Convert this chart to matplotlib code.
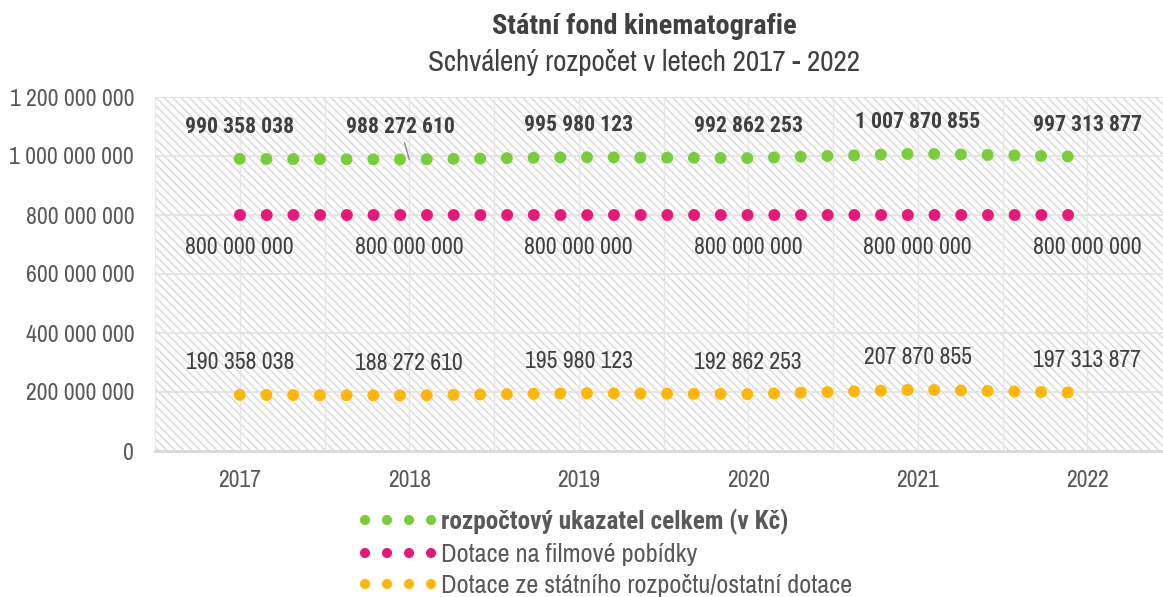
import matplotlib
matplotlib.use("Agg")
import matplotlib.pyplot as plt
from matplotlib.lines import Line2D
from matplotlib.patches import Rectangle

# =========================
# Data
# =========================
years = ["2017", "2018", "2019", "2020", "2021", "2022"]
total = [990358038, 988272610, 995980123, 992862253, 1007870855, 997313877]
film = [800000000, 800000000, 800000000, 800000000, 800000000, 800000000]
state = [190358038, 188272610, 195980123, 192862253, 207870855, 197313877]

names = [
    "rozpočtový ukazatel celkem (v Kč)",
    "Dotace na filmové pobídky",
    "Dotace ze státního rozpočtu/ostatní dotace",
]
yticks = [0, 200000000, 400000000, 600000000, 800000000, 1000000000, 1200000000]

# =========================
# Style
# =========================
plt.rcParams["font.family"] = ["Archivo Narrow", "Roboto Condensed", "DejaVu Sans"]
plt.rcParams["hatch.linewidth"] = 1.1
BOLD = ["Roboto Condensed", "Archivo Narrow", "DejaVu Sans"]

GREEN = "#7ACC3A"
PINK = "#E8187A"
ORANGE = "#FFB606"
TXT = "#404040"
TICK = "#595959"
FS = 17
FS_BOLD = 15.7
FS_LEG = 19


def fmt(v):
    return f"{v:,}".replace(",", " ")


DPI = 100
fig = plt.figure(figsize=(11.63, 5.97), dpi=DPI)
W, H = 1163, 597
ax = fig.add_axes([155 / W, (H - 451) / H, (1172 - 155) / W, (451 - 97) / H])

ax.set_facecolor("white")
ax.add_patch(Rectangle((0, 0), 1, 1, transform=ax.transAxes, facecolor="white",
                       edgecolor="#dcdcdc", hatch="\\\\\\\\", lw=0, zorder=0))

x = list(range(len(years)))

# dotted lines with round dots, ~12 px diameter, ~26.7 px pitch
lw_pt = 12 * 72 / DPI
gap = (26.7 * 72 / DPI) / lw_pt
style = (0, (0.001, gap))
for vals, col in [(total, GREEN), (film, PINK), (state, ORANGE)]:
    ax.plot(x, vals, color=col, lw=lw_pt, linestyle=style,
            dash_capstyle="round", zorder=3)

# data labels
for i, v in enumerate(total):
    if i == 1:
        ax.annotate(fmt(v), xy=(i, v), xytext=(-9, 32), textcoords="offset pixels",
                    ha="center", va="center", fontsize=FS_BOLD, fontweight="bold",
                    family=BOLD, color=TXT,
                    arrowprops=dict(arrowstyle="-", color="#8c8c8c", lw=1,
                                    shrinkA=1, shrinkB=0), zorder=4)
    else:
        ax.annotate(fmt(v), xy=(i, v), xytext=(0, 32), textcoords="offset pixels",
                    ha="center", va="center", fontsize=FS_BOLD, fontweight="bold",
                    family=BOLD, color=TXT)
for i, v in enumerate(film):
    ax.annotate(fmt(v), xy=(i, v), xytext=(0, -33), textcoords="offset pixels",
                ha="center", va="center", fontsize=FS, color=TXT)
for i, v in enumerate(state):
    ax.annotate(fmt(v), xy=(i, v), xytext=(0, 32), textcoords="offset pixels",
                ha="center", va="center", fontsize=FS, color=TXT)

# axes
ax.set_xlim(-0.5, 5.5)
ax.set_ylim(0, 1200000000)
ax.set_xticks(x)
ax.set_xticklabels(years)
ax.set_yticks(yticks)
ax.set_yticklabels([fmt(v) for v in yticks])
ax.tick_params(axis="both", length=0, labelsize=FS, labelcolor=TICK)
ax.tick_params(axis="y", pad=15)
ax.tick_params(axis="x", pad=14)

ax.set_xticks([i + 0.5 for i in range(-1, 6)], minor=True)
ax.grid(True, axis="y", color="#e2e2e2", lw=1.2, zorder=1)
ax.grid(True, axis="x", which="both", color="#e6e6e6", lw=1.0, zorder=1)
ax.tick_params(axis="x", which="minor", length=0)
ax.set_axisbelow(True)

for s in ["top", "right", "left"]:
    ax.spines[s].set_visible(False)
ax.spines["bottom"].set_color("#d9d9d9")
ax.spines["bottom"].set_linewidth(2)

# titles
fig.text(644 / W, 1 - 27 / H, "Státní fond kinematografie", ha="center", va="center",
         fontsize=20.4, fontweight="bold", family=BOLD, color=TXT)
fig.text(644 / W, 1 - 63 / H, "Schválený rozpočet v letech 2017 - 2022", ha="center",
         va="center", fontsize=21, color=TXT)

# legend
lgap = (22 * 72 / DPI) / (lw_pt * 0.85)
handles = [Line2D([0], [0], color=c, lw=lw_pt * 0.85, linestyle=(0, (0.001, lgap)),
                  dash_capstyle="round") for c in (GREEN, PINK, ORANGE)]
leg = fig.legend(handles, names, loc="upper left", bbox_to_anchor=(365 / W, 1 - 509 / H),
                 frameon=False, fontsize=FS_LEG, handlelength=2.55, handletextpad=0.32,
                 labelspacing=0.3, borderaxespad=0, borderpad=0)
for t in leg.get_texts():
    t.set_color(TICK)
leg.get_texts()[0].set_fontweight("bold")
leg.get_texts()[0].set_family(BOLD)
leg.get_texts()[0].set_fontsize(18.2)

fig.savefig("out.png", dpi=DPI)
